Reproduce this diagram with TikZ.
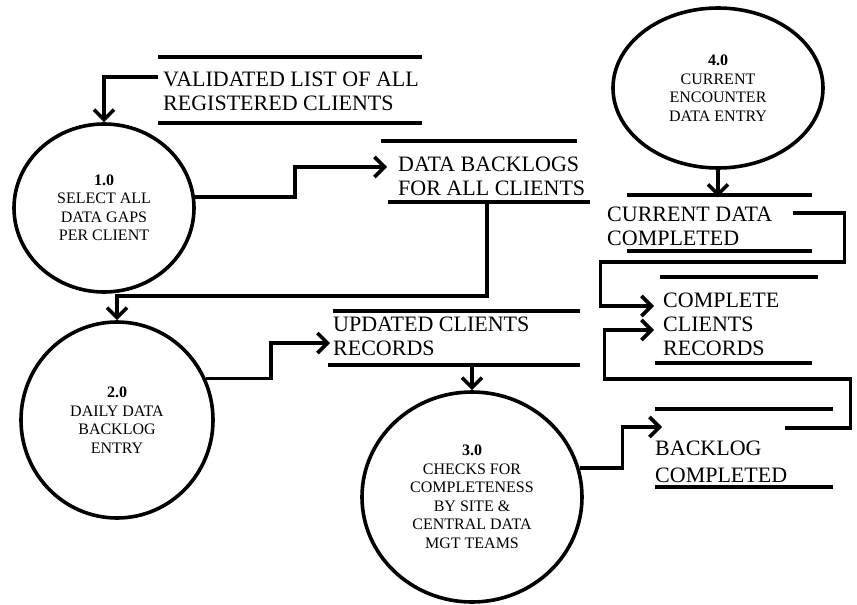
\documentclass[tikz,border=0pt]{standalone}
\usepackage{fontspec}
\setmainfont{Liberation Serif}
\usetikzlibrary{arrows.meta,shapes.geometric}
\tikzset{
  proc/.style={ellipse,draw,line width=3.6pt,align=center,inner sep=0pt,
               font=\fontsize{16}{18.5}\selectfont},
  store/.style={anchor=west,align=left,inner sep=0pt,
                font=\fontsize{22}{24}\selectfont},
  storeline/.style={line width=3.8pt},
  flow/.style={line width=3.6pt,-{Straight Barb[length=10pt,width=20pt]}}
}
\begin{document}
\begin{tikzpicture}[x=1pt,y=-1pt]
  \useasboundingbox (0,0) rectangle (857,605);
  % processes
  \node[proc,minimum width=180,minimum height=168] (c1) at (104,208)
    {\textbf{1.0}\\SELECT ALL\\DATA GAPS\\PER CLIENT};
  \node[proc,minimum width=192,minimum height=196] (c2) at (117,420)
    {\textbf{2.0}\\DAILY DATA\\BACKLOG\\ENTRY};
  \node[proc,minimum width=220,minimum height=210] (c3) at (472,497)
    {\textbf{3.0}\\CHECKS FOR\\COMPLETENESS\\BY SITE \&\\CENTRAL DATA\\MGT TEAMS};
  \node[proc,minimum width=210,minimum height=160] (c4) at (718,88)
    {\textbf{4.0}\\CURRENT\\ENCOUNTER\\DATA ENTRY};
  % data stores
  \node[store] (sA) at (163,91) {VALIDATED LIST OF ALL\\REGISTERED CLIENTS};
  \node[store] (sB) at (398,176.5) {DATA BACKLOGS\\FOR ALL CLIENTS};
  \node[store] (sC) at (333,336.5) {UPDATED CLIENTS\\RECORDS};
  \node[store] (sD) at (663,324) {COMPLETE\\CLIENTS\\RECORDS};
  \node[store] (sE) at (655,461.5) {BACKLOG\\[3pt]COMPLETED};
  \node[store] (sF) at (607,226.5) {CURRENT DATA\\COMPLETED};
  \foreach \ya/\xa/\xb/\yb/\xc/\xd in {57/158/422/123/158/422,
      141/381/577/202/388/590, 311/333/580/365/328/580,
      277/660/818/363/655/812, 409/655/833/487/655/833,
      195/627/812/251/627/812}{
    \draw[storeline] (\xa,\ya) -- (\xb,\ya);
    \draw[storeline] (\xc,\yb) -- (\xd,\yb);}
  % flows
  \draw[flow] ([shift={(-5pt,14pt)}]sA.west) -| (c1.north);
  \draw[flow] (c1.7) -- ++(100,0) |- ([shift={(-11pt,9.5pt)}]sB.west);
  \draw[flow] ([shift={(-4.5pt,-4pt)}]sB.south) -- ++(0,96) -| (c2.north);
  \draw[flow] (c2.25) -- ++(65,0) |- ([shift={(-3pt,-6.5pt)}]sC.west);
  \draw[flow] ([yshift=-7pt]sC.south -| c3.north) -- (c3.north);
  \draw[flow] (c3.15) -- ++(43,0) |- ([shift={(7pt,34.5pt)}]sE.west);
  \draw[flow] (c4.south) -- ([yshift=10pt]sF.north -| c4.south);
  \draw[flow] ([shift={(21pt,13.5pt)}]sF.east) -- ++(51,0) -- ++(0,49)
    -- ++(-244,0) |- ([shift={(-9pt,18pt)}]sD.west);
  \draw[flow] ([shift={(-2pt,33.5pt)}]sE.east) -- ++(65,0) -- ++(0,-49)
    -- ++(-246,0) |- ([shift={(-9pt,-6pt)}]sD.west);
\end{tikzpicture}
\end{document}
